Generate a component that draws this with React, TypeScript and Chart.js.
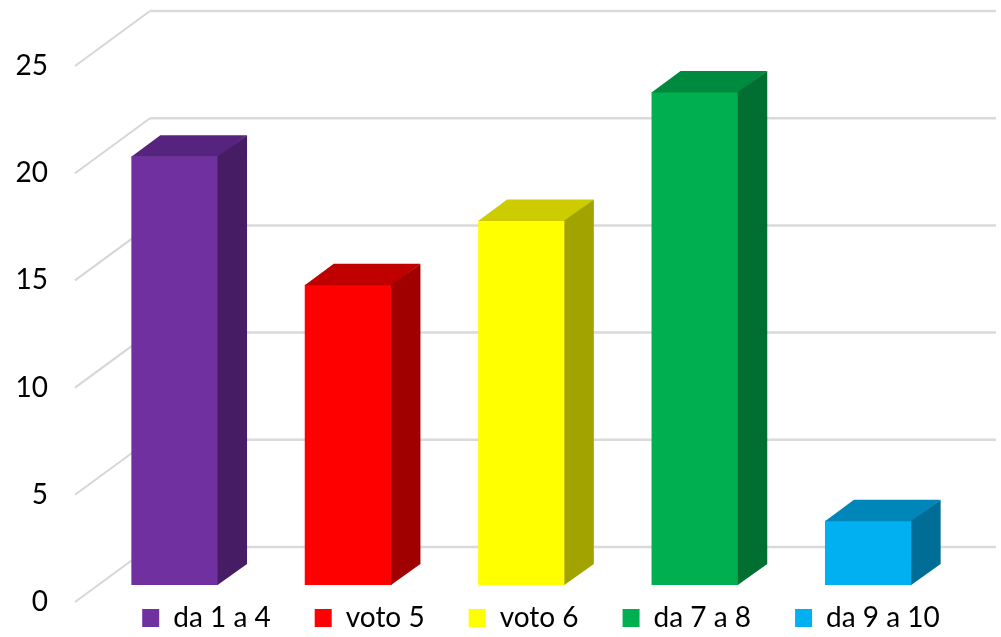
import React, { useEffect, useRef } from "react";
import { Chart, registerables } from "chart.js";

Chart.register(...registerables);

const categories = ["da 1 a 4", "voto 5", "voto 6", "da 7 a 8", "da 9 a 10"];
const values = [20, 14, 17, 23, 3];
const yTicks = [0, 5, 10, 15, 20, 25];

const frontColors = ["#7030A0", "#FF0000", "#FFFF00", "#00B050", "#00B0F0"];
const topColors = ["#56247F", "#C00000", "#CCCC00", "#008A3F", "#0086B8"];
const sideColors = ["#461D64", "#A00000", "#A3A300", "#006F31", "#006D96"];

const DEPTH_X = 29;
const DEPTH_Y = -21;
const FONT = "Lato";

const wallPlugin = {
  id: "wall3d",
  beforeDatasetsDraw(chart: any) {
    const ctx = chart.ctx;
    const y = chart.scales.y;
    ctx.save();
    yTicks.forEach((v) => {
      const p = y.getPixelForValue(v);
      ctx.strokeStyle = "#d6d6d6";
      ctx.lineWidth = 2;
      ctx.beginPath();
      ctx.moveTo(75, p + 17);
      ctx.lineTo(150, p - 38);
      ctx.stroke();
      ctx.strokeStyle = "#dadada";
      ctx.lineWidth = 2.5;
      ctx.beginPath();
      ctx.moveTo(150, p - 38);
      ctx.lineTo(996, p - 38);
      ctx.stroke();
    });
    ctx.restore();
  },
  afterDatasetsDraw(chart: any) {
    const ctx = chart.ctx;
    const meta = chart.getDatasetMeta(0);
    ctx.save();
    meta.data.forEach((bar: any, i: number) => {
      const { x, y, base, width } = bar.getProps(["x", "y", "base", "width"], true);
      const l = x - width / 2;
      const r = x + width / 2;
      ctx.fillStyle = topColors[i];
      ctx.beginPath();
      ctx.moveTo(l, y + 0.5);
      ctx.lineTo(l + DEPTH_X, y + DEPTH_Y);
      ctx.lineTo(r + DEPTH_X, y + DEPTH_Y);
      ctx.lineTo(r, y + 0.5);
      ctx.closePath();
      ctx.fill();
      ctx.fillStyle = sideColors[i];
      ctx.beginPath();
      ctx.moveTo(r - 0.5, y);
      ctx.lineTo(r + DEPTH_X, y + DEPTH_Y);
      ctx.lineTo(r + DEPTH_X, base + DEPTH_Y);
      ctx.lineTo(r - 0.5, base);
      ctx.closePath();
      ctx.fill();
    });
    ctx.restore();
  },
  afterLayout(chart: any) {
    const lg = chart.legend;
    if (!lg) return;
    lg.top = 560;
    lg.bottom = 637;
    lg.height = 77;
    const w = lg.right - lg.left;
    lg.left = 541 - w / 2;
    lg.right = 541 + w / 2;
  },
};

export default function App() {
  const ref = useRef<HTMLCanvasElement>(null);
  useEffect(() => {
    document.body.style.margin = "0";
    document.body.style.background = "#ffffff";
    const chart = new Chart(ref.current!, {
      type: "bar",
      data: {
        labels: categories,
        datasets: [
          {
            data: values,
            backgroundColor: frontColors,
            borderWidth: 0,
            categoryPercentage: 1,
            barPercentage: 0.5,
          },
        ],
      },
      options: {
        responsive: false,
        animation: false,
        layout: { padding: { top: 49, right: 46, bottom: 0, left: 0 } },
        scales: {
          x: { display: false },
          y: {
            min: 0,
            max: 25,
            grid: { display: false, drawTicks: false },
            border: { display: false },
            ticks: {
              stepSize: 5,
              padding: 40,
              labelOffset: 17,
              color: "#000000",
              font: { family: FONT, size: 28 },
            },
            afterFit(scale: any) {
              scale.width = 88;
              scale.paddingTop = 0;
              scale.paddingBottom = 0;
            },
          },
        },
        plugins: {
          tooltip: { enabled: false },
          legend: {
            position: "bottom",
            maxHeight: 52,
            onClick: () => {},
            labels: {
              boxWidth: 17,
              boxHeight: 18,
              padding: 44,
              color: "#000000",
              font: { family: FONT, size: 28 },
              generateLabels: (c: any) =>
                c.data.labels.map((t: string, i: number) => ({
                  text: t,
                  fillStyle: frontColors[i],
                  strokeStyle: frontColors[i],
                  lineWidth: 0,
                  hidden: false,
                  index: i,
                  fontColor: "#000000",
                })),
            },
          },
        },
      },
      plugins: [wallPlugin],
    });
    return () => chart.destroy();
  }, []);
  return (
    <div style={{ width: 1001, height: 637, background: "#fff" }}>
      <canvas ref={ref} width={1001} height={637} style={{ display: "block" }} />
    </div>
  );
}
